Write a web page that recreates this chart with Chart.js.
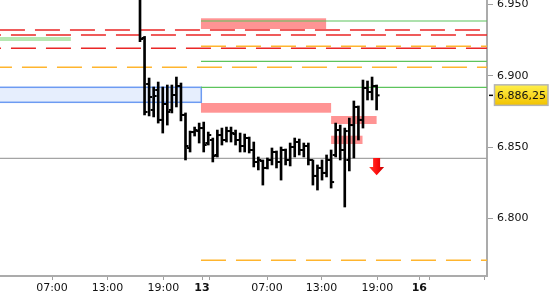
<!DOCTYPE html>
<html><head><meta charset="utf-8">
<script src="https://cdn.jsdelivr.net/npm/chart.js@4"></script>
<style>html,body{margin:0;padding:0;background:#fff;overflow:hidden}#wrap{width:550px;height:300px;position:relative}</style>
</head><body><div id="wrap"><canvas id="c"></canvas></div>
<script>
// ---- OHLC bars (30 min), index = bar slot ----
const opens = [6956.0,6926.5,6894.2,6876.0,6890.0,6869.0,6880.2,6876.0,6886.5,6892.8,6872.5,6849.3,6860.5,6861.2,6863.3,6852.8,6854.9,6844.4,6858.4,6854.9,6861.2,6859.1,6854.9,6850.7,6856.3,6847.9,6839.5,6840.2,6835.3,6840.9,6846.5,6839.5,6847.9,6840.9,6850.0,6853.5,6847.9,6850.7,6840.9,6829.7,6835.3,6831.8,6840.9,6844.4,6861.9,6847.9,6840.9,6865.4,6878.1,6869.0,6891.4,6888.6,6892.8];
const highs = [6960.0,6927.6,6898.4,6892.1,6895.6,6892.1,6893.5,6893.5,6899.1,6894.9,6873.9,6861.2,6864.0,6866.8,6867.5,6860.5,6856.3,6861.9,6863.3,6864.0,6864.0,6861.9,6859.8,6859.1,6857.0,6853.5,6843.0,6840.9,6842.3,6849.3,6847.2,6850.0,6848.6,6852.8,6856.3,6855.6,6852.8,6852.8,6840.9,6837.4,6840.9,6844.4,6847.9,6866.8,6865.4,6863.3,6870.3,6882.3,6878.8,6897.0,6896.3,6899.1,6893.5];
const lows = [6923.9,6872.5,6871.8,6871.1,6866.8,6859.8,6865.4,6873.9,6878.1,6868.3,6840.9,6846.5,6857.7,6852.8,6846.5,6851.4,6839.5,6843.0,6851.4,6853.5,6853.5,6851.4,6846.5,6846.5,6845.8,6836.0,6833.9,6823.3,6834.6,6837.4,6835.3,6826.8,6837.4,6836.7,6843.0,6844.4,6843.0,6837.4,6823.3,6819.8,6826.8,6829.0,6821.2,6843.0,6840.9,6807.9,6833.2,6842.3,6854.9,6863.3,6883.0,6883.0,6876.0];
const closes = [6925.8,6874.6,6885.1,6885.8,6869.0,6880.2,6874.6,6886.5,6892.8,6872.5,6850.7,6860.5,6861.9,6863.3,6851.4,6858.4,6843.7,6858.4,6854.9,6861.2,6859.8,6854.9,6850.7,6856.3,6847.9,6839.5,6840.9,6835.3,6840.9,6846.5,6839.5,6847.9,6840.9,6850.0,6853.5,6847.9,6850.7,6840.9,6829.7,6835.3,6831.8,6840.9,6825.4,6861.9,6847.9,6861.2,6865.4,6878.1,6869.0,6891.4,6888.6,6892.8,6886.25];

// ---- time axis ticks (in bar slots) ----
const timeTickValues = [-19.34,-7.14,5.12,13.63,15.38,27.91,39.89,52.15,61.38,63.58,75.67];
const timeTickLabels = ['07:00','13:00','19:00','13','','07:00','13:00','19:00','16','',''];
const dayLabels = ['13','16'];

// ---- price ticks ----
const priceTicks = [6800,6850,6900,6950];
const lastPrice = 6886.25;

// ---- horizontal levels ----
const levelValues = [6932.11,6928.60,6919.26,6905.93,6920.67,6770.49,6938.42,6910.14,6891.90,6842.07];
const levelStarts = [-31,-31,-31,-31,13.4,13.4,13.4,13.4,13.4,-31];
const levelEnds   = [77,77,77,77,77,77,77,77,77,77];
const levelKinds  = ['red','red','red','orange','orange','orange','green','green','green','gray'];

// ---- zones ----
const zoneStarts = [13.4,13.4,42.0,42.0,-31,-31];
const zoneEnds   = [40.9,42.0,52.0,48.9,-15.2,13.47];
const zoneLows   = [6932.81,6874.07,6866.14,6852.11,6924.39,6881.37];
const zoneHighs  = [6940.32,6880.88,6871.76,6857.93,6927.19,6891.90];
const zoneKinds  = ['pink','pink','pink','pink','green','blue'];

// ---- signal arrow ----
const signalSlot = 52.0, signalTop = 6842.3, signalBottom = 6830.2;

const fmtPrice = (v, dec) => {
  const s = v.toFixed(dec);
  const [ip, dp] = s.split('.');
  const withSep = ip.replace(/\B(?=(\d{3})+(?!\d))/g, '.');
  return dp ? withSep + ',' + dp : withSep;
};

// styles
const levelStyles = {
  red:    {color:'#ea2626', width:1.6, dash:[25,10]},
  orange: {color:'#ffb52e', width:1.5, dash:[25,10]},
  green:  {color:'#5cc45c', width:1.2, dash:[]},
  gray:   {color:'#a4a4a4', width:1.2, dash:[]}
};
const levelDashPhase = [34,23,23,12,0,0,0,0,0,0];
const zoneStyles = {
  pink:  {fill:'#ff9494'},
  green: {fill:'#b6e8b2'},
  blue:  {fill:'#e6eefd', stroke:'#6d9bf2', width:1.5}
};

const idx = opens.map((_, i) => i);
const datasets = [];
datasets.push({type:'bar', data: idx.map(i => ({x:i, y:[lows[i], highs[i]]})), backgroundColor:'#000', borderWidth:0, barThickness:2, order:1});
datasets.push({type:'scatter', data: idx.map(i => ({x:i, y:opens[i]})), pointStyle:'dash', pointRotation:180, pointRadius:3, pointHoverRadius:3, pointBorderWidth:2, pointBorderColor:'#000', pointBackgroundColor:'#000', order:0});
datasets.push({type:'scatter', data: idx.map(i => ({x:i, y:closes[i]})), pointStyle:'dash', pointRotation:0, pointRadius:3, pointHoverRadius:3, pointBorderWidth:2, pointBorderColor:'#000', pointBackgroundColor:'#000', order:0});
levelValues.forEach((v, i) => {
  const st = levelStyles[levelKinds[i]];
  datasets.push({type:'line', data:[{x:levelStarts[i], y:v},{x:levelEnds[i], y:v}], borderColor:st.color, borderWidth:st.width, borderDash:st.dash, borderDashOffset:levelDashPhase[i], pointRadius:0, fill:false, order:5});
});

const zonesPlugin = {
  id:'zones',
  beforeDatasetsDraw(chart) {
    const {ctx, chartArea:a, scales:{x, y}} = chart;
    ctx.save();
    ctx.beginPath(); ctx.rect(a.left, a.top, a.right - a.left, a.bottom - a.top); ctx.clip();
    zoneKinds.forEach((k, i) => {
      const st = zoneStyles[k];
      const x0 = x.getPixelForValue(zoneStarts[i]), x1 = x.getPixelForValue(zoneEnds[i]);
      const y0 = y.getPixelForValue(zoneHighs[i]), y1 = y.getPixelForValue(zoneLows[i]);
      ctx.fillStyle = st.fill; ctx.fillRect(x0, y0, x1 - x0, y1 - y0);
      if (st.stroke) { ctx.strokeStyle = st.stroke; ctx.lineWidth = st.width; ctx.strokeRect(x0, y0, x1 - x0, y1 - y0); }
    });
    ctx.restore();
  }
};

const overlayPlugin = {
  id:'overlay',
  afterDraw(chart) {
    const {ctx, chartArea:a, scales:{x, y}} = chart;
    const cx = x.getPixelForValue(signalSlot);
    const t = y.getPixelForValue(signalTop), b = y.getPixelForValue(signalBottom);
    const h = b - t;
    const g = ctx.createLinearGradient(cx - 7, 0, cx + 7, 0);
    g.addColorStop(0, '#ff3a2a'); g.addColorStop(0.5, '#ff1010'); g.addColorStop(1, '#c80000');
    ctx.save();
    ctx.fillStyle = g;
    ctx.beginPath();
    ctx.moveTo(cx - 3.5, t); ctx.lineTo(cx + 3.5, t); ctx.lineTo(cx + 3.5, t + h * 0.52);
    ctx.lineTo(cx + 7.5, t + h * 0.52); ctx.lineTo(cx, b); ctx.lineTo(cx - 7.5, t + h * 0.52);
    ctx.lineTo(cx - 3.5, t + h * 0.52); ctx.closePath(); ctx.fill();
    const yp = y.getPixelForValue(lastPrice);
    ctx.strokeStyle = '#000'; ctx.lineWidth = 1.5;
    ctx.beginPath(); ctx.moveTo(a.right + 2, yp); ctx.lineTo(a.right + 6, yp); ctx.stroke();
    const bx = a.right + 7.5, by = yp - 10.5, bw = 53.5, bh = 20.5;
    const yg = ctx.createLinearGradient(0, by, 0, by + bh);
    yg.addColorStop(0, '#fff04a'); yg.addColorStop(1, '#f2c200');
    ctx.fillStyle = yg; ctx.fillRect(bx, by, bw, bh);
    ctx.strokeStyle = '#b4b4b4'; ctx.lineWidth = 1.5; ctx.strokeRect(bx, by, bw, bh);
    ctx.fillStyle = '#111'; ctx.font = '11px "DejaVu Sans"'; ctx.textBaseline = 'middle'; ctx.textAlign = 'left';
    ctx.fillText(fmtPrice(lastPrice, 2), bx + 2.5, yp + 0.5);
    ctx.restore();
  }
};

new Chart(document.getElementById('c'), {
  type:'bar',
  data:{datasets},
  options:{
    responsive:true, maintainAspectRatio:false, animation:false, devicePixelRatio:1,
    events:[],
    layout:{padding:0, autoPadding:false},
    plugins:{legend:{display:false}, tooltip:{enabled:false}},
    scales:{
      x:{
        type:'linear', position:'bottom', min:-30.77, max:76.26, offset:false,
        afterBuildTicks(s){ s.ticks = timeTickValues.map(v => ({value:v})); },
        afterFit(s){ s.height = 24; s.paddingLeft = 0; s.paddingRight = 0; },
        grid:{drawOnChartArea:false, drawTicks:true, tickLength:4, color:'#a0a0a0', offset:false},
        border:{display:true, color:'#ababab', width:2},
        ticks:{
          autoSkip:false, maxRotation:0, padding:2, color:'#111',
          callback:(v, i) => timeTickLabels[i],
          font:(c) => ({family:'DejaVu Sans', size:11, weight: dayLabels.includes(timeTickLabels[c.index]) ? 'bold' : 'normal'})
        }
      },
      y:{
        type:'linear', position:'right', min:6759.48, max:6953.16,
        afterBuildTicks(s){ s.ticks = priceTicks.map(v => ({value:v})); },
        afterFit(s){ s.width = 63; s.paddingTop = 0; s.paddingBottom = 0; },
        grid:{drawOnChartArea:false, drawTicks:true, tickLength:6, color:'#a0a0a0'},
        border:{display:true, color:'#ababab', width:2},
        ticks:{autoSkip:false, padding:4, color:'#111', font:{family:'DejaVu Sans', size:11},
          callback:(v) => fmtPrice(v, 0)}
      }
    }
  },
  plugins:[zonesPlugin, overlayPlugin]
});
</script></body></html>
